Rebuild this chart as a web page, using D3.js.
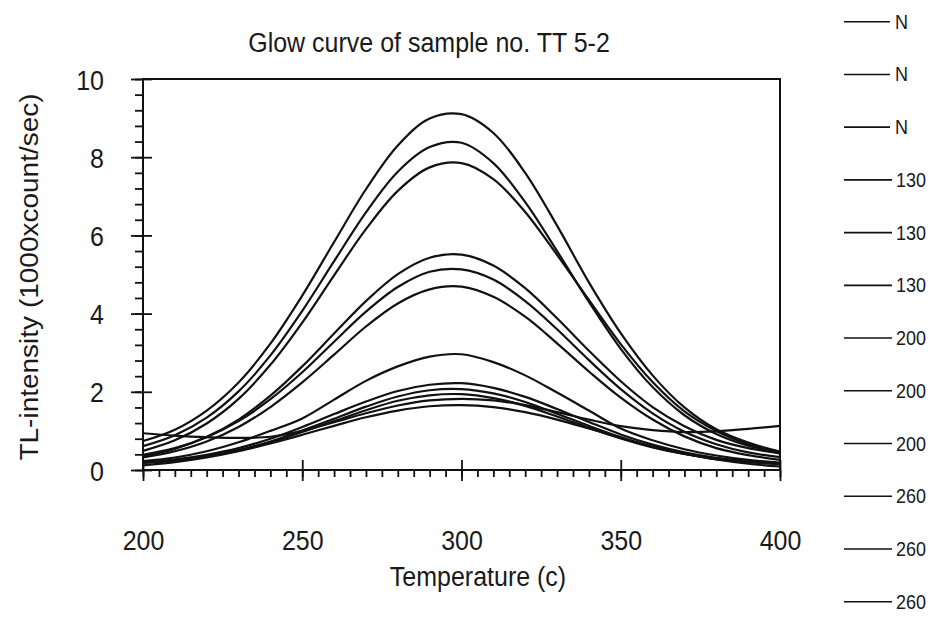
<!DOCTYPE html>
<html>
<head>
<meta charset="utf-8">
<script src="https://cdn.jsdelivr.net/npm/d3@7"></script>
<style>
body { margin: 0; background: #fff; }
text { font-family: Arial, "Liberation Sans", sans-serif; fill: #1a1a1a; }
</style>
</head>
<body>
<div id="chart"></div>
<script>
// temperatures (c) at which the curves were read
const temperatures = [200,210,220,230,240,250,260,270,280,290,300,310,320,330,340,350,360,370,380,390,400];

// TL-intensity (1000 x count/sec)
const glowN1   = [0.74,1.03,1.52,2.24,3.23,4.46,5.83,7.18,8.30,8.99,9.10,8.62,7.60,6.25,4.80,3.50,2.42,1.60,1.04,0.70,0.47];
const glowN2   = [0.61,0.89,1.34,2.01,2.93,4.07,5.34,6.59,7.63,8.26,8.37,7.85,6.85,5.60,4.30,3.10,2.12,1.40,0.92,0.62,0.45];
const glowN3   = [0.49,0.76,1.19,1.82,2.69,3.77,4.98,6.16,7.14,7.74,7.85,7.44,6.60,5.50,4.35,3.22,2.25,1.50,1.00,0.66,0.42];
const glow130a = [0.35,0.54,0.85,1.29,1.90,2.65,3.49,4.32,5.01,5.43,5.51,5.23,4.65,3.88,3.05,2.27,1.61,1.12,0.77,0.56,0.43];
const glow130b = [0.39,0.56,0.84,1.25,1.81,2.50,3.28,4.05,4.68,5.07,5.13,4.87,4.32,3.60,2.81,2.07,1.45,0.98,0.66,0.45,0.33];
const glow130c = [0.32,0.48,0.73,1.10,1.61,2.24,2.95,3.67,4.26,4.62,4.69,4.43,3.92,3.24,2.52,1.85,1.29,0.86,0.56,0.38,0.26];
const glow200a = [0.23,0.32,0.48,0.71,1.00,1.32,1.80,2.28,2.65,2.90,2.96,2.76,2.42,1.98,1.52,1.06,0.76,0.53,0.37,0.26,0.19];
const glow200b = [0.20,0.27,0.39,0.56,0.80,1.10,1.43,1.75,2.02,2.18,2.22,2.10,1.87,1.56,1.23,0.91,0.65,0.45,0.31,0.23,0.17];
const glow200c = [0.18,0.24,0.35,0.51,0.73,1.01,1.31,1.62,1.88,2.04,2.07,1.96,1.74,1.44,1.13,0.84,0.59,0.41,0.28,0.20,0.15];
const glow260a = [0.19,0.25,0.35,0.50,0.71,0.97,1.25,1.53,1.77,1.91,1.94,1.84,1.64,1.37,1.08,0.81,0.58,0.41,0.29,0.21,0.17];
const glow260b = [0.94,0.88,0.84,0.82,0.85,1.00,1.22,1.45,1.65,1.78,1.82,1.78,1.66,1.48,1.29,1.12,1.02,0.97,0.99,1.05,1.13];
const glow260c = [0.12,0.20,0.32,0.48,0.68,0.90,1.13,1.35,1.52,1.63,1.66,1.61,1.48,1.29,1.06,0.82,0.60,0.42,0.27,0.16,0.09];

const legendLabels = ["N","N","N","130","130","130","200","200","200","260","260","260"];
const xTicks = [200,250,300,350,400];
const yTicks = [0,2,4,6,8,10];

const series = [glowN1, glowN2, glowN3, glow130a, glow130b, glow130c,
                glow200a, glow200b, glow200c, glow260a, glow260b, glow260c];

const width = 933, height = 618;
const margin = {top: 79, right: 153, bottom: 148, left: 143};
const stretch = 1.12; // the scan is a little taller than wide

const svg = d3.select("#chart").append("svg")
    .attr("width", width)
    .attr("height", height)
    .style("background", "#fff");

const xScale = d3.scaleLinear()
    .domain([200, 400])
    .range([margin.left, width - margin.right]);

const yScale = d3.scaleLinear()
    .domain([0, 10])
    .range([height - margin.bottom, margin.top]);

const plotBottom = height - margin.bottom;

// curves
const lineGenerator = d3.line()
    .x((d, i) => xScale(temperatures[i]))
    .y(d => yScale(d))
    .curve(d3.curveCatmullRom.alpha(0.5));

svg.append("g")
    .selectAll("path")
    .data(series)
    .join("path")
    .attr("d", d => lineGenerator(d))
    .attr("fill", "none")
    .attr("stroke", "#111")
    .attr("stroke-width", 2.2);

// frame
svg.append("rect")
    .attr("x", margin.left)
    .attr("y", margin.top)
    .attr("width", width - margin.left - margin.right)
    .attr("height", plotBottom - margin.top)
    .attr("fill", "none")
    .attr("stroke", "#111")
    .attr("stroke-width", 2);

// x axis
const xMinor = svg.append("g")
    .attr("transform", `translate(0,${plotBottom})`)
    .call(d3.axisBottom(xScale).tickValues(d3.range(200, 401, 5)).tickSize(7).tickFormat(""));

const xMajorIn = svg.append("g")
    .attr("transform", `translate(0,${plotBottom})`)
    .call(d3.axisTop(xScale).tickValues(xTicks).tickSize(10).tickFormat(""));

const xMajor = svg.append("g")
    .attr("transform", `translate(0,${plotBottom})`)
    .call(d3.axisBottom(xScale).tickValues(xTicks).tickSize(11).tickFormat(d3.format("d")));

xMajor.selectAll("text")
    .attr("y", 0).attr("dy", 0)
    .attr("transform", `translate(0,80) scale(1,${stretch})`)
    .style("font-size", "25px");

// y axis
const yMinor = svg.append("g")
    .attr("transform", `translate(${margin.left},0)`)
    .call(d3.axisLeft(yScale).tickValues(d3.range(0, 10.01, 0.4)).tickSize(8).tickFormat(""));

const yMajorIn = svg.append("g")
    .attr("transform", `translate(${margin.left},0)`)
    .call(d3.axisRight(yScale).tickValues(yTicks).tickSize(9).tickFormat(""));

const yMajor = svg.append("g")
    .attr("transform", `translate(${margin.left},0)`)
    .call(d3.axisLeft(yScale).tickValues(yTicks).tickSize(12).tickFormat(d3.format("d")));

yMajor.selectAll("text")
    .attr("x", 0).attr("dy", 0)
    .attr("transform", `translate(-39,10) scale(1,${stretch})`)
    .style("font-size", "25px");

[xMinor, xMajorIn, xMajor, yMinor, yMajorIn, yMajor].forEach(g => {
    g.select(".domain").remove();
    g.selectAll("line").attr("stroke", "#111").attr("stroke-width", 1.8);
});

// titles
svg.append("text")
    .attr("transform", `translate(429,52) scale(1,${stretch})`)
    .attr("text-anchor", "middle")
    .style("font-size", "25px")
    .text("Glow curve of sample no. TT 5-2");

svg.append("text")
    .attr("transform", `translate(478,586) scale(1,${stretch})`)
    .attr("text-anchor", "middle")
    .style("font-size", "25px")
    .text("Temperature (c)");

svg.append("text")
    .attr("transform", `translate(38,277) rotate(-90) scale(${stretch},1)`)
    .attr("text-anchor", "middle")
    .style("font-size", "25px")
    .text("TL-intensity (1000xcount/sec)");

// legend
const legendScale = d3.scalePoint()
    .domain(d3.range(legendLabels.length))
    .range([21.7, 601.7]);

const legend = svg.append("g")
    .selectAll("g")
    .data(legendLabels)
    .join("g")
    .attr("transform", (d, i) => `translate(844,${legendScale(i)})`);

legend.append("line")
    .attr("x1", 0)
    .attr("x2", d => d === "N" ? 46 : 48)
    .attr("stroke", "#111")
    .attr("stroke-width", 1.6);

legend.append("text")
    .attr("transform", d => `translate(${d === "N" ? 51 : 52},7) scale(1,${stretch})`)
    .style("font-size", "18px")
    .text(d => d);
</script>
</body>
</html>
